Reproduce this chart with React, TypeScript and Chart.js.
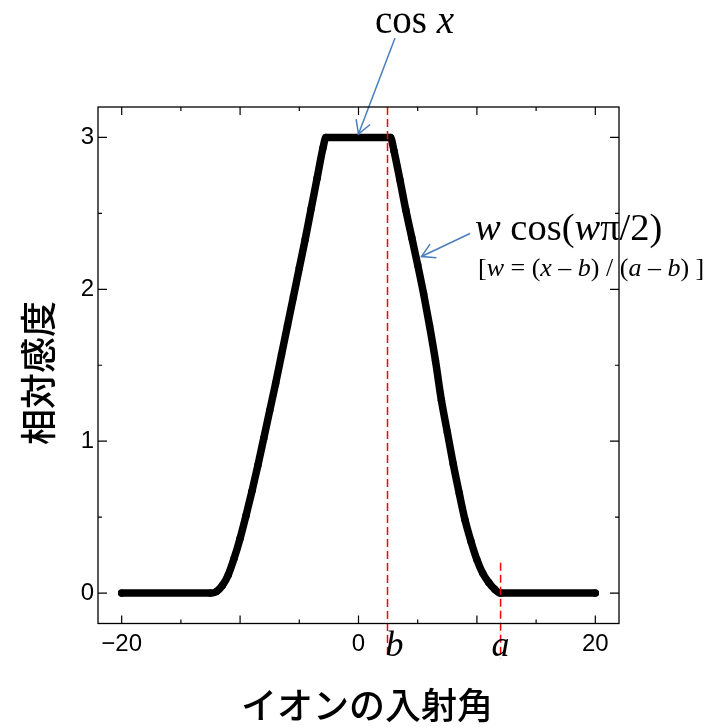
import { useEffect, useRef } from "react";
import { Chart, registerables } from "chart.js";

Chart.register(...registerables);

// Incidence angle (x) and relative sensitivity (y)
const angleValues = [
  -20, -12.5, -12, -11.5, -11, -10.5, -10, -9.5, -9, -8.5, -8, -7.5, -7, -6.5, -6, -5.5, -5, -4.5, -4,
  -3.5, -3, -2.75, 2.7, 3, 3.5, 4, 4.5, 5, 5.5, 6, 6.5, 7, 7.5, 8, 8.5, 9, 9.5, 10, 10.5, 11, 11.5,
  12, 20,
];
const sensitivityValues = [
  0, 0, 0.01, 0.05, 0.12, 0.23, 0.36, 0.51, 0.67, 0.84, 1.02, 1.2, 1.38, 1.57, 1.76, 1.95, 2.14, 2.33,
  2.53, 2.73, 2.93, 3.0, 3.0, 2.91, 2.72, 2.52, 2.34, 2.16, 1.97, 1.76, 1.53, 1.27, 1.06, 0.85, 0.66,
  0.48, 0.34, 0.22, 0.13, 0.07, 0.025, 0, 0,
];

const xTickValues = [-20, -15, -10, -5, 0, 5, 10, 15, 20];
const xLabeledTicks = [-20, 0, 20];
const yTickValues = [0, 0.5, 1, 1.5, 2, 2.5, 3];
const yLabeledTicks = [0, 1, 2, 3];

const bValue = 2.45;
const aValue = 12.0;

const X_TITLE = "イオンの入射角";
const Y_TITLE = "相対感度";

const SERIF = "'Liberation Serif', 'Times New Roman', serif";
const SANS = "'Liberation Sans', Arial, sans-serif";
const CJK = "'Noto Sans CJK JP', 'Noto Sans', sans-serif";
const ARROW_BLUE = "#4a7ebb";

type Part = { t: string; i?: boolean };

function drawRich(ctx: CanvasRenderingContext2D, parts: Part[], x: number, y: number, size: number) {
  let cx = x;
  for (const p of parts) {
    ctx.font = `${p.i ? "italic " : ""}${size}px ${SERIF}`;
    ctx.fillText(p.t, cx, y);
    cx += ctx.measureText(p.t).width;
  }
  return cx;
}

function drawArrow(ctx: CanvasRenderingContext2D, x1: number, y1: number, x2: number, y2: number) {
  ctx.beginPath();
  ctx.moveTo(x1, y1);
  ctx.lineTo(x2, y2);
  ctx.stroke();
  const ang = Math.atan2(y1 - y2, x1 - x2);
  const L = 15;
  const th = (30 * Math.PI) / 180;
  ctx.beginPath();
  ctx.moveTo(x2 + L * Math.cos(ang + th), y2 + L * Math.sin(ang + th));
  ctx.lineTo(x2, y2);
  ctx.lineTo(x2 + L * Math.cos(ang - th), y2 + L * Math.sin(ang - th));
  ctx.stroke();
}

const decorPlugin = {
  id: "decor",
  afterDatasetsDraw(chart: any) {
    const { ctx, chartArea: ca, scales } = chart;
    const xs = scales.x;
    const ys = scales.y;
    ctx.save();

    // red dashed guide lines
    ctx.strokeStyle = "#ff0000";
    ctx.lineWidth = 1.5;
    ctx.setLineDash([8, 4]);
    const bx = xs.getPixelForValue(bValue);
    ctx.beginPath();
    ctx.moveTo(bx, ca.top);
    ctx.lineTo(bx, 657);
    ctx.stroke();
    const ax = xs.getPixelForValue(aValue);
    ctx.beginPath();
    ctx.moveTo(ax, ys.getPixelForValue(0.2));
    ctx.lineTo(ax, 659);
    ctx.stroke();
    ctx.setLineDash([]);

    // inward ticks
    ctx.strokeStyle = "#000";
    ctx.lineWidth = 1.2;
    for (const v of xTickValues) {
      const px = xs.getPixelForValue(v);
      const len = v % 10 === 0 ? 8 : 4;
      ctx.beginPath();
      ctx.moveTo(px, ca.bottom);
      ctx.lineTo(px, ca.bottom - len);
      ctx.moveTo(px, ca.top);
      ctx.lineTo(px, ca.top + len);
      ctx.stroke();
    }
    for (const v of yTickValues) {
      const py = ys.getPixelForValue(v);
      const len = Number.isInteger(v) ? 9 : 4;
      ctx.beginPath();
      ctx.moveTo(ca.left, py);
      ctx.lineTo(ca.left + len, py);
      ctx.moveTo(ca.right, py);
      ctx.lineTo(ca.right - len, py);
      ctx.stroke();
    }

    // b and a labels
    ctx.fillStyle = "#000";
    ctx.textBaseline = "alphabetic";
    ctx.textAlign = "left";
    ctx.font = `italic 36px ${SERIF}`;
    ctx.fillText("b", bx - 2, 656);
    ctx.textAlign = "center";
    ctx.fillText("a", ax, 656);
    ctx.textAlign = "left";

    // cos x annotation
    drawRich(ctx, [{ t: "cos " }, { t: "x", i: true }], 375, 33, 39);
    ctx.strokeStyle = ARROW_BLUE;
    ctx.lineWidth = 1.5;
    drawArrow(ctx, 395, 38, 358.5, 134);

    // w cos(wπ/2) annotation
    drawRich(
      ctx,
      [{ t: "w", i: true }, { t: " cos(" }, { t: "w", i: true }, { t: "π/2)" }],
      475,
      240,
      38.5
    );
    drawRich(
      ctx,
      [
        { t: "[" },
        { t: "w", i: true },
        { t: " = (" },
        { t: "x", i: true },
        { t: " – " },
        { t: "b", i: true },
        { t: ") / (" },
        { t: "a", i: true },
        { t: " – " },
        { t: "b", i: true },
        { t: ") ]" },
      ],
      478,
      276,
      26
    );
    drawArrow(ctx, 470, 233.5, 421.5, 256.5);

    // frame (drawn over the text, as in the original)
    ctx.strokeStyle = "#000";
    ctx.lineWidth = 1.3;
    ctx.strokeRect(ca.left, ca.top, ca.right - ca.left, ca.bottom - ca.top);

    // axis titles
    ctx.fillStyle = "#000";
    ctx.font = `500 36px ${CJK}`;
    ctx.textAlign = "center";
    ctx.textBaseline = "middle";
    ctx.fillText(X_TITLE, 367, 705);
    ctx.save();
    ctx.translate(38, 373);
    ctx.rotate(-Math.PI / 2);
    ctx.fillText(Y_TITLE, 0, 0);
    ctx.restore();

    ctx.restore();
  },
};

export default function App() {
  const canvasRef = useRef<HTMLCanvasElement | null>(null);

  useEffect(() => {
    const canvas = canvasRef.current;
    if (!canvas) return;
    const points = angleValues.map((x, i) => ({ x, y: sensitivityValues[i] }));
    const chart = new Chart(canvas, {
      type: "scatter",
      data: {
        datasets: [
          {
            data: points,
            showLine: true,
            borderColor: "#000",
            backgroundColor: "#000",
            borderWidth: 7.5,
            borderCapStyle: "round",
            borderJoinStyle: "round",
            cubicInterpolationMode: "monotone",
            pointRadius: 3.7,
            pointBorderWidth: 0,
            clip: false,
          } as any,
        ],
      },
      options: {
        responsive: false,
        animation: false,
        devicePixelRatio: 1,
        layout: { padding: { top: 107, right: 91, left: 0, bottom: 0 } },
        plugins: { legend: { display: false }, tooltip: { enabled: false } },
        scales: {
          x: {
            type: "linear",
            min: -22,
            max: 22,
            grid: { display: false, drawTicks: false },
            border: { display: false },
            afterBuildTicks: (scale: any) => {
              scale.ticks = xTickValues.map((v) => ({ value: v }));
            },
            afterFit: (scale: any) => {
              scale.height = 103.5;
            },
            ticks: {
              autoSkip: false,
              maxRotation: 0,
              padding: 6,
              color: "#000",
              font: { family: SANS, size: 24 },
              callback: (v: any) =>
                xLabeledTicks.includes(Number(v)) ? String(v).replace("-", "\u2212") : "",
            },
          },
          y: {
            type: "linear",
            min: -0.2,
            max: 3.2,
            grid: { display: false, drawTicks: false },
            border: { display: false },
            afterBuildTicks: (scale: any) => {
              scale.ticks = yTickValues.map((v) => ({ value: v }));
            },
            afterFit: (scale: any) => {
              scale.width = 98;
            },
            ticks: {
              autoSkip: false,
              padding: 4,
              color: "#000",
              font: { family: SANS, size: 24 },
              callback: (v: any) => (yLabeledTicks.includes(Number(v)) ? String(v) : ""),
            },
          },
        },
      },
      plugins: [decorPlugin],
    });
    return () => chart.destroy();
  }, []);

  return (
    <div style={{ position: "absolute", left: 0, top: 0, width: 710, height: 727, background: "#fff" }}>
      <canvas ref={canvasRef} width={710} height={727} style={{ display: "block" }} />
    </div>
  );
}
